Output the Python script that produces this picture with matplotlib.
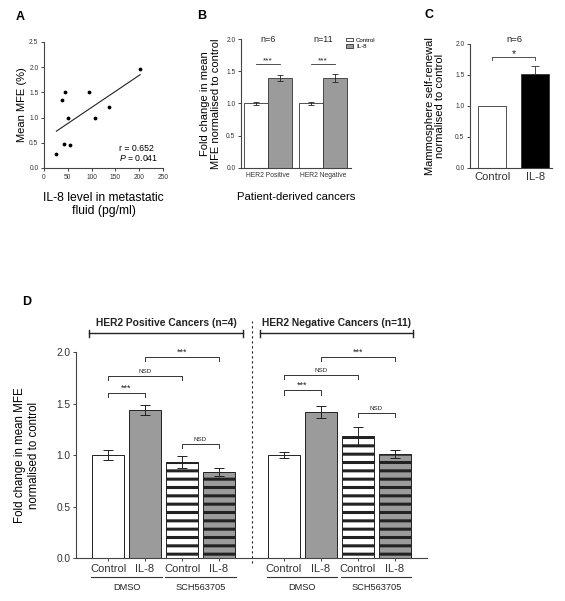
import numpy as np
import matplotlib
matplotlib.use("Agg")
import matplotlib.pyplot as plt

plt.rcParams['font.family'] = ['Liberation Sans', 'DejaVu Sans']
plt.rcParams['mathtext.fontset'] = 'custom'
plt.rcParams['mathtext.it'] = 'Liberation Sans:italic'
plt.rcParams['mathtext.rm'] = 'Liberation Sans'
plt.rcParams['hatch.linewidth'] = 2.2

# ---- data ----
# A: IL-8 level vs mean MFE
il8_level = [26, 38, 45, 43, 51, 54, 94, 108, 136, 202]
mean_mfe = [0.27, 1.34, 1.51, 0.47, 1.00, 0.46, 1.51, 0.99, 1.21, 1.96]

# B: patient-derived cancers
b_groups = ['HER2 Positive', 'HER2 Negative']
b_control = [1.0, 1.0]
b_control_err = [0.03, 0.03]
b_il8 = [1.39, 1.40]
b_il8_err = [0.045, 0.065]
b_n = ['n=6', 'n=11']

# C: mammosphere self-renewal
c_labels = ['Control', 'IL-8']
c_values = [1.0, 1.515]
c_err = [0.0, 0.13]

# D: HER2 positive / negative with SCH563705
d_labels = ['Control', 'IL-8', 'Control', 'IL-8']
d_pos_values = [1.0, 1.437, 0.93, 0.832]
d_pos_err = [0.044, 0.05, 0.06, 0.04]
d_neg_values = [1.0, 1.414, 1.18, 1.01]
d_neg_err = [0.025, 0.058, 0.09, 0.035]

GREY = '#9b9b9b'
SPINE = '#444444'


def style_axes(ax, fs):
    for s in ['top', 'right']:
        ax.spines[s].set_visible(False)
    for s in ['left', 'bottom']:
        ax.spines[s].set_color(SPINE)
        ax.spines[s].set_linewidth(0.8)
    ax.tick_params(colors=SPINE, labelcolor='#333333', labelsize=fs,
                   length=2.5, width=0.7, pad=1.5)


def bracket(ax, x1, x2, y, text, h=0.04, fs=6, gap=0.01, lw=0.7):
    ax.plot([x1, x1, x2, x2], [y - h, y, y, y - h], color='#333333',
            lw=lw, clip_on=False)
    ax.text((x1 + x2) / 2, y + gap, text, ha='center', va='bottom',
            fontsize=fs, color='#222222')


fig = plt.figure(figsize=(5.65, 6.01), dpi=100)

# ---- Panel A ----
axA = fig.add_axes([0.0779, 0.7205, 0.2106, 0.2097])
style_axes(axA, 4.8)
axA.scatter(il8_level, mean_mfe, s=3, color='black', zorder=3)
slope, intercept = np.polyfit(il8_level, mean_mfe, 1)
xl = np.array([min(il8_level), max(il8_level)])
axA.plot(xl, slope * xl + intercept, color='#222222', lw=0.8)
axA.set_xlim(0, 250)
axA.set_ylim(0, 2.5)
axA.set_xticks(np.arange(0, 251, 50))
axA.set_yticks(np.arange(0, 2.51, 0.5))
axA.yaxis.set_major_formatter(matplotlib.ticker.FormatStrFormatter('%.1f'))
axA.text(158, 0.39, 'r = 0.652', fontsize=6.3, va='center')
axA.text(158, 0.19, '$P$ = 0.041', fontsize=6.3, va='center')
axA.set_ylabel('Mean MFE (%)', fontsize=8, labelpad=1.5)
axA.set_xlabel('IL-8 level in metastatic\nfluid (pg/ml)', fontsize=8.7,
               labelpad=8, linespacing=1.15)
fig.text(16 / 565, 1 - 17 / 601, 'A', fontsize=9, fontweight='bold',
         ha='left', va='center')

# ---- Panel B ----
axB = fig.add_axes([0.4265, 0.7205, 0.1947, 0.2146])
style_axes(axB, 4.8)
b_ctrl_x = np.array([0.62, 2.94])
b_il8_x = b_ctrl_x + 1.0
axB.bar(b_ctrl_x, b_control, width=1.0, color='white', edgecolor='#333333',
        lw=0.6, label='Control', yerr=b_control_err, capsize=2.5,
        error_kw=dict(lw=0.6, capthick=0.6, ecolor='#222222'))
axB.bar(b_il8_x, b_il8, width=1.0, color=GREY, edgecolor='#333333',
        lw=0.6, label='IL-8', yerr=b_il8_err, capsize=2.5,
        error_kw=dict(lw=0.6, capthick=0.6, ecolor='#222222'))
axB.set_xlim(0, 4.6)
axB.set_ylim(0, 2.0)
axB.set_yticks(np.arange(0, 2.01, 0.5))
axB.yaxis.set_major_formatter(matplotlib.ticker.FormatStrFormatter('%.1f'))
axB.set_xticks((b_ctrl_x + b_il8_x) / 2)
axB.set_xticklabels(b_groups, fontsize=4.9)
axB.tick_params(axis='x', length=0, pad=3)
for i in range(2):
    bracket(axB, b_ctrl_x[i], b_il8_x[i], 1.61, '***', h=0.0, fs=6,
            gap=-0.01, lw=0.6)
    axB.text((b_ctrl_x[i] + b_il8_x[i]) / 2, 2.0, b_n[i], ha='center',
             va='center', fontsize=6.5, color='#222222')
axB.legend(loc='upper left', bbox_to_anchor=(0.93, 1.03), frameon=False,
           fontsize=4.4, handlelength=1.2, handleheight=0.6,
           handletextpad=0.5, labelspacing=0.2, borderaxespad=0)
axB.set_ylabel('Fold change in mean\nMFE normalised to control',
               fontsize=8, labelpad=4, linespacing=1.1)
axB.set_xlabel('Patient-derived cancers', fontsize=8.1, labelpad=9)
fig.text(197 / 565, 1 - 16 / 601, 'B', fontsize=9, fontweight='bold',
         ha='left', va='center')

# ---- Panel C ----
axC = fig.add_axes([470 / 565, 0.7205, 82 / 565, 124 / 601])
style_axes(axC, 4.8)
c_x = [0.8, 2.34]
axC.bar(c_x, c_values, width=1.0, color=['white', 'black'],
        edgecolor='#333333', lw=0.6)
axC.errorbar(c_x[1], c_values[1], yerr=[[0], [c_err[1]]], fmt='none',
             ecolor='#333333', elinewidth=0.6, capsize=3, capthick=0.6)
axC.set_xlim(0, 2.93)
axC.set_ylim(0, 2.0)
axC.set_yticks(np.arange(0, 2.01, 0.5))
axC.yaxis.set_major_formatter(matplotlib.ticker.FormatStrFormatter('%.1f'))
axC.set_xticks(c_x)
axC.set_xticklabels(c_labels, fontsize=8)
axC.tick_params(axis='x', length=0, pad=3)
bracket(axC, c_x[0], c_x[1], 1.79, '*', h=0.05, fs=7.5, gap=-0.03, lw=0.6)
axC.text(sum(c_x) / 2, 2.08, 'n=6', ha='center', va='center',
         fontsize=6.8, color='#222222', clip_on=False)
axC.set_ylabel('Mammosphere self-renewal\nnormalised to control',
               fontsize=8, labelpad=7, linespacing=1.1)
fig.text(425 / 565, 1 - 15 / 601, 'C', fontsize=9, fontweight='bold',
         ha='left', va='center')

# ---- Panel D ----
axD = fig.add_axes([0.1345, 0.0715, 0.6212, 0.3428])
style_axes(axD, 7.3)
pos_x = np.array([0, 1, 2, 3])
neg_x = pos_x + 4.75
face = ['white', GREY, 'white', GREY]
hatch = [None, None, '--', '--']
for xs, vals, errs in [(pos_x, d_pos_values, d_pos_err),
                       (neg_x, d_neg_values, d_neg_err)]:
    for i in range(4):
        axD.bar(xs[i], vals[i], width=0.87, color=face[i],
                edgecolor='#222222', lw=0.7, hatch=hatch[i])
        axD.errorbar(xs[i], vals[i], yerr=errs[i], fmt='none',
                     ecolor='#222222', elinewidth=0.7, capsize=3.5,
                     capthick=0.7)
axD.set_xlim(-0.865, 8.62)
axD.set_ylim(0, 2.0)
axD.set_yticks(np.arange(0, 2.01, 0.5))
axD.yaxis.set_major_formatter(matplotlib.ticker.FormatStrFormatter('%.1f'))
axD.set_xticks(np.concatenate([pos_x, neg_x]))
axD.set_xticklabels(d_labels * 2, fontsize=8)
axD.tick_params(axis='x', length=2.5, pad=2)
axD.set_ylabel('Fold change in mean MFE\nnormalised to control',
               fontsize=8.3, labelpad=12, linespacing=1.15)

# significance brackets
for xs, ys in [(pos_x, [1.605, 1.77, 1.955, 1.11]),
               (neg_x, [1.63, 1.78, 1.955, 1.41])]:
    bracket(axD, xs[0], xs[1], ys[0], '***', h=0.045, fs=6.5, gap=0.0)
    bracket(axD, xs[0], xs[2], ys[1], 'NSD', h=0.045, fs=4.5, gap=0.015)
    bracket(axD, xs[1], xs[3], ys[2], '***', h=0.045, fs=6.5, gap=0.0)
    bracket(axD, xs[2], xs[3], ys[3], 'NSD', h=0.045, fs=4.5, gap=0.015)

# treatment group lines below the axis
for xs in [pos_x, neg_x]:
    for j, name in enumerate(['DMSO', 'SCH563705']):
        a, b = xs[2 * j] - 0.45, xs[2 * j + 1] + 0.45
        axD.plot([a, b], [-0.185, -0.185], color='#333333', lw=0.8,
                 clip_on=False)
        axD.text((a + b) / 2, -0.29, name, ha='center', va='center',
                 fontsize=6.7, color='#222222')

# header brackets
for xs, title in [(pos_x, 'HER2 Positive Cancers (n=4)'),
                  (neg_x, 'HER2 Negative Cancers (n=11)')]:
    a, b = xs[0] - 0.5, xs[3] + 0.65
    if xs[0] > 0:
        a, b = xs[0] - 0.65, xs[3] + 0.5
    axD.plot([a, b], [2.18, 2.18], color='#222222', lw=1.0, clip_on=False)
    for e in (a, b):
        axD.plot([e, e], [2.145, 2.215], color='#222222', lw=1.0,
                 clip_on=False)
    axD.text((a + b) / 2, 2.28, title, ha='center', va='center',
             fontsize=7.4, fontweight='bold', color='#222222')

axD.plot([3.89, 3.89], [-0.05, 2.3], color='#222222', lw=0.8,
         linestyle=(0, (2, 2.5)), clip_on=False)
fig.text(22 / 565, 1 - 302 / 601, 'D', fontsize=9, fontweight='bold',
         ha='left', va='center')

fig.savefig('out.png', dpi=100)
